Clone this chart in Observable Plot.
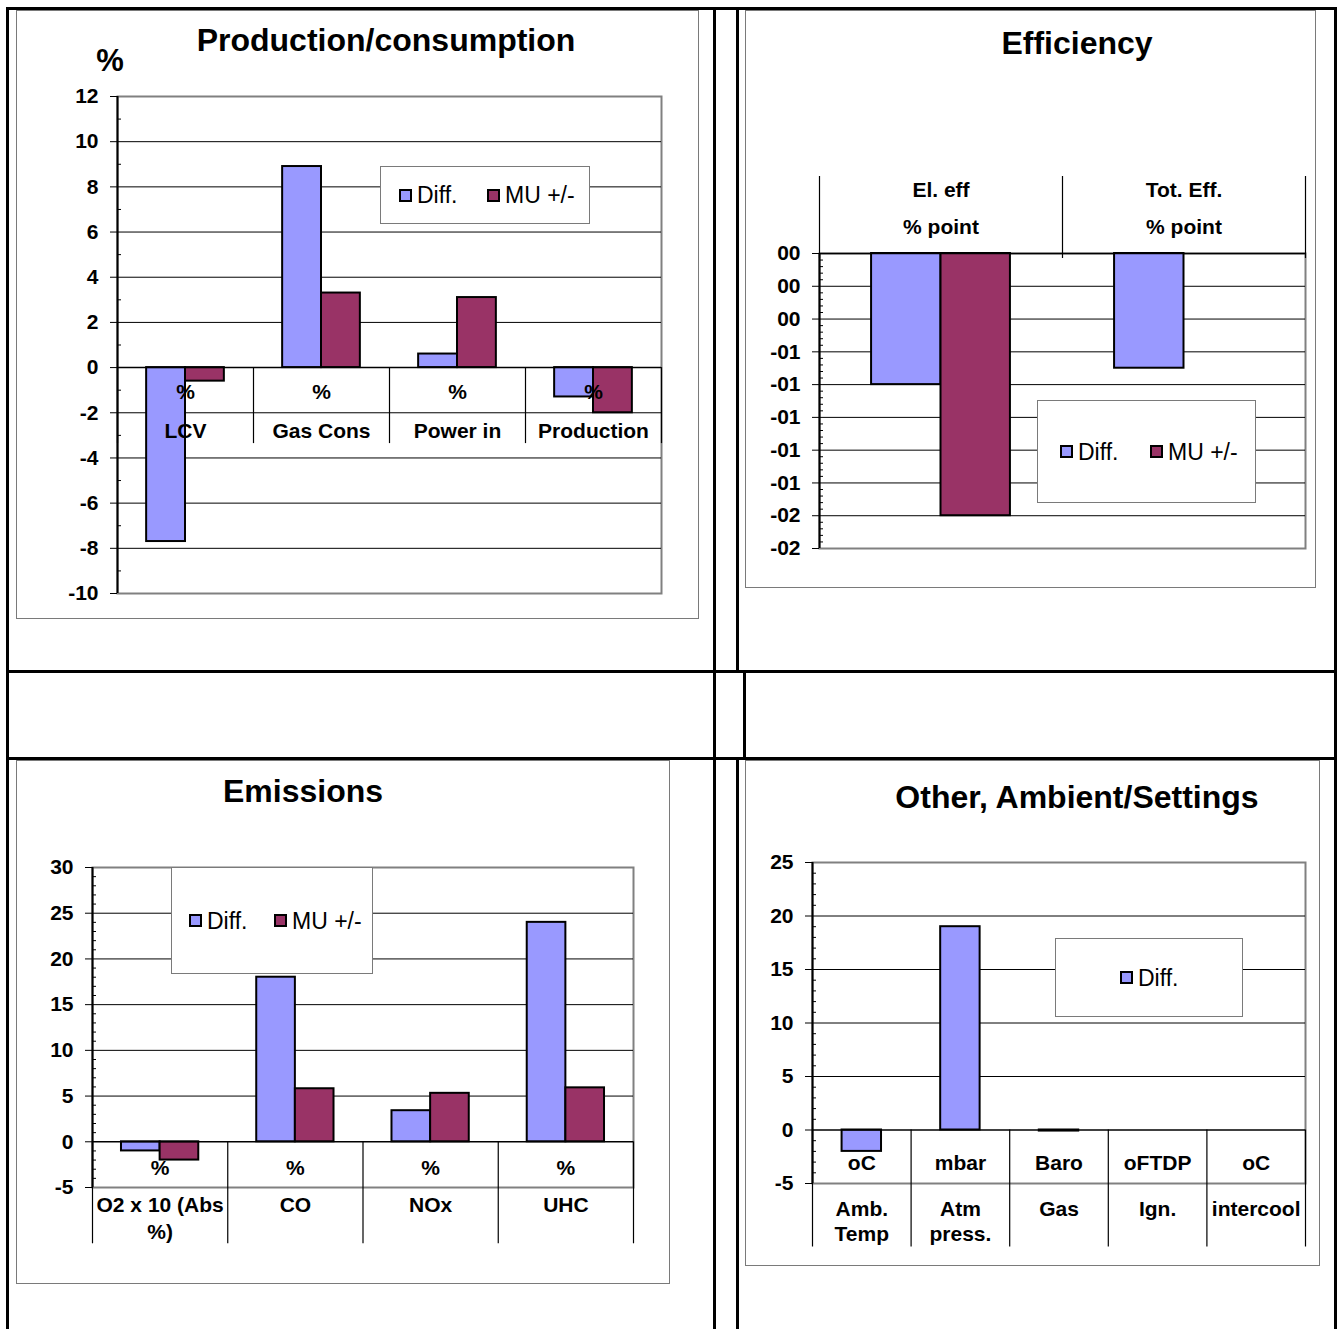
<!DOCTYPE html>
<html>
<head>
<meta charset="utf-8">
<script src="https://cdn.jsdelivr.net/npm/d3@7"></script>
<script src="https://cdn.jsdelivr.net/npm/@observablehq/plot@0.6"></script>
<style>
  body { margin: 0; background: #fff; }
  #page { position: relative; width: 1341px; height: 1329px; overflow: hidden; background: #fff;
          font-family: "Liberation Sans", Arial, sans-serif; color: #000; }
  .line { position: absolute; background: #000; }
  .panel { position: absolute; }
  .panel svg { display: block; }
  .frame { position: absolute; border: 1.5px solid #7a7a7a; box-sizing: border-box; pointer-events: none; }
  .title { position: absolute; width: 600px; text-align: center; font-weight: bold; font-size: 32px;
           line-height: 32px; white-space: nowrap; }
  .legend { position: absolute; background: #fff; border: 1.5px solid #7a7a7a; box-sizing: border-box;
            font-size: 23px; }
  .item { position: absolute; top: 50%; transform: translateY(-50%); display: flex; align-items: center;
          white-space: nowrap; line-height: 26px; }
  .sw { width: 13px; height: 13px; box-sizing: border-box; border: 2px solid #000; margin-right: 5px; }
</style>
</head>
<body>
<div id="page"></div>
<script>
const DIFF_COLOR = "#9999ff";
const MU_COLOR = "#993366";

// Production/consumption
const prodCategories = ["LCV", "Gas Cons", "Power in", "Production"];
const prodUnits = ["%", "%", "%", "%"];
const prodDiff = [-7.7, 8.9, 0.6, -1.3];
const prodMU = [-0.6, 3.3, 3.1, -2.0];
const prodTicks = [-10, -8, -6, -4, -2, 0, 2, 4, 6, 8, 10, 12];

// Efficiency
const effCategories = ["El. eff", "Tot. Eff."];
const effUnits = ["% point", "% point"];
const effDiff = [-0.008, -0.007];
const effMU = [-0.016, null];
const effTicks = [0, -0.002, -0.004, -0.006, -0.008, -0.010, -0.012, -0.014, -0.016, -0.018];

// Emissions
const emiCategories = ["O2 x 10 (Abs\n%)", "CO", "NOx", "UHC"];
const emiUnits = ["%", "%", "%", "%"];
const emiDiff = [-1.0, 18.0, 3.4, 24.0];
const emiMU = [-2.0, 5.8, 5.3, 5.9];
const emiTicks = [-5, 0, 5, 10, 15, 20, 25, 30];

// Other, ambient/settings
const othCategories = ["Amb.\nTemp", "Atm\npress.", "Gas", "Ign.", "intercool"];
const othUnits = ["oC", "mbar", "Baro", "oFTDP", "oC"];
const othDiff = [-2.0, 19.0, -0.1, null, null];
const othTicks = [-5, 0, 5, 10, 15, 20, 25];

const page = document.getElementById("page");

function el(cls, css, html) {
  const d = document.createElement("div");
  d.className = cls;
  Object.assign(d.style, css);
  if (html != null) d.innerHTML = html;
  page.appendChild(d);
  return d;
}

// Table grid around the four charts
[
  [6, 7, 1331, 2.5], [6, 670, 1331, 2.5], [6, 757, 1331, 2.5],
  [6, 7, 2.5, 1322], [713, 7, 2.5, 1322], [1334, 7, 2.5, 1322],
  [736, 7, 2.5, 665], [743, 671, 2.5, 87], [736, 758, 2.5, 571]
].forEach(([l, t, w, h]) => el("line", {left: l + "px", top: t + "px", width: w + "px", height: h + "px"}));

// Excel-style clustered column chart: gap width 150% between category groups
function columnChart(cfg) {
  const {categories, units, series, ticks, minorStep, tickFormat = (d) => String(d),
         width, height, margin, unitDy, nameDy, nameAnchor = "middle", nameLineHeight = 1.3,
         sepUp = 0, sepDown = 0} = cfg;
  const n = categories.length;
  const k = series.length;
  const barW = 1 / (k + 1.5);
  const gap = 0.75 * barW;
  const [lo, hi] = d3.extent(ticks);
  const minor = d3.range(Math.round((hi - lo) / minorStep) + 1)
    .map((m) => lo + m * minorStep)
    .filter((v) => !ticks.some((t) => Math.abs(t - v) < minorStep / 10));
  const grid = ticks.filter((t) => t !== lo && t !== hi && t !== 0);

  return Plot.plot({
    width, height,
    marginTop: margin[0], marginRight: margin[1], marginBottom: margin[2], marginLeft: margin[3],
    style: {fontFamily: "'Liberation Sans', Arial, sans-serif", fontSize: "21px", fontWeight: "bold",
            color: "black", background: "white", overflow: "visible"},
    x: {domain: [0, n], axis: null},
    y: {domain: [lo, hi]},
    marks: [
      Plot.frame({stroke: "#808080", strokeWidth: 2}),
      Plot.ruleY(grid, {stroke: "black", strokeWidth: 1}),
      ...series.map((s, j) => Plot.rect(s.values.map((value, i) => ({i, value})), {
        x1: (d) => d.i + gap + j * barW,
        x2: (d) => d.i + gap + (j + 1) * barW,
        y1: 0,
        y2: "value",
        fill: s.color,
        stroke: "black",
        strokeWidth: 2
      })),
      Plot.ruleY([0], {stroke: "black", strokeWidth: 1.5}),
      Plot.ruleX([0], {stroke: "black", strokeWidth: 2}),
      Plot.ruleY(minor, {x1: 0, x2: 0, insetRight: -4, stroke: "black", strokeWidth: 1}),
      Plot.axisY(ticks, {tickSize: 7, tickPadding: 12, tickFormat, label: null}),
      Plot.ruleX(d3.range(n + 1), {y1: 0, y2: 0, insetTop: -sepUp, insetBottom: -sepDown,
                                   stroke: "black", strokeWidth: 1.2}),
      Plot.text(units, {x: (d, i) => i + 0.5, y: 0, dy: unitDy, text: (d) => d}),
      Plot.text(categories, {x: (d, i) => i + 0.5, y: 0, dy: nameDy, text: (d) => d,
                             lineAnchor: nameAnchor, lineHeight: nameLineHeight})
    ]
  });
}

function panel(left, top, chart) {
  const p = el("panel", {left: left + "px", top: top + "px"});
  p.appendChild(chart);
  el("frame", {left: left + "px", top: top + "px",
               width: chart.getAttribute("width") + "px", height: chart.getAttribute("height") + "px"});
}

function title(text, centerX, top, size = 32) {
  el("title", {left: (centerX - 300) + "px", top: top + "px", fontSize: size + "px", lineHeight: size + "px"}, text);
}

function legend(left, top, width, height, items) {
  const box = el("legend", {left: left + "px", top: top + "px", width: width + "px", height: height + "px"});
  items.forEach(([name, color, x]) => {
    const it = document.createElement("div");
    it.className = "item";
    it.style.left = x + "px";
    it.innerHTML = `<div class="sw" style="background:${color}"></div><span>${name}</span>`;
    box.appendChild(it);
  });
}

// Production/consumption
panel(16, 10, columnChart({
  categories: prodCategories, units: prodUnits,
  series: [{color: DIFF_COLOR, values: prodDiff}, {color: MU_COLOR, values: prodMU}],
  ticks: prodTicks, minorStep: 1,
  width: 683, height: 609, margin: [86, 38, 26, 101],
  unitDy: 25, nameDy: 62, sepDown: 76
}));
title("Production/consumption", 386, 24);
el("title", {left: "-190px", top: "45px", fontSize: "31px", lineHeight: "31px"}, "%");
legend(380, 166, 210, 58, [["Diff.", DIFF_COLOR, 18], ["MU +/-", MU_COLOR, 106]]);

// Efficiency
panel(745, 10, columnChart({
  categories: effCategories, units: effUnits,
  series: [{color: DIFF_COLOR, values: effDiff}, {color: MU_COLOR, values: effMU}],
  ticks: effTicks, minorStep: 0.0004,
  tickFormat: (d) => {
    const v = Math.round(d * 100);
    return (v < 0 ? "-" : "") + String(Math.abs(v)).padStart(2, "0");
  },
  width: 571, height: 578, margin: [243, 11, 40, 74],
  unitDy: -26, nameDy: -65, sepUp: 77, sepDown: 5
}));
title("Efficiency", 1077, 27);
legend(1037, 400, 219, 103, [["Diff.", DIFF_COLOR, 22], ["MU +/-", MU_COLOR, 112]]);

// Emissions
panel(16, 760, columnChart({
  categories: emiCategories, units: emiUnits,
  series: [{color: DIFF_COLOR, values: emiDiff}, {color: MU_COLOR, values: emiMU}],
  ticks: emiTicks, minorStep: 1,
  width: 654, height: 524, margin: [107, 37, 97, 76],
  unitDy: 26, nameDy: 52, nameAnchor: "top", nameLineHeight: 1.25, sepDown: 102
}));
title("Emissions", 303, 775);
legend(171, 867, 202, 107, [["Diff.", DIFF_COLOR, 17], ["MU +/-", MU_COLOR, 102]]);

// Other, Ambient/Settings
panel(745, 760, columnChart({
  categories: othCategories, units: othUnits,
  series: [{color: DIFF_COLOR, values: othDiff}],
  ticks: othTicks, minorStep: 1,
  width: 575, height: 506, margin: [102, 15, 83, 67],
  unitDy: 33, nameDy: 68, nameAnchor: "top", nameLineHeight: 1.2, sepDown: 117
}));
title("Other, Ambient/Settings", 1077, 781);
legend(1055, 938, 188, 79, [["Diff.", DIFF_COLOR, 64]]);
</script>
</body>
</html>
